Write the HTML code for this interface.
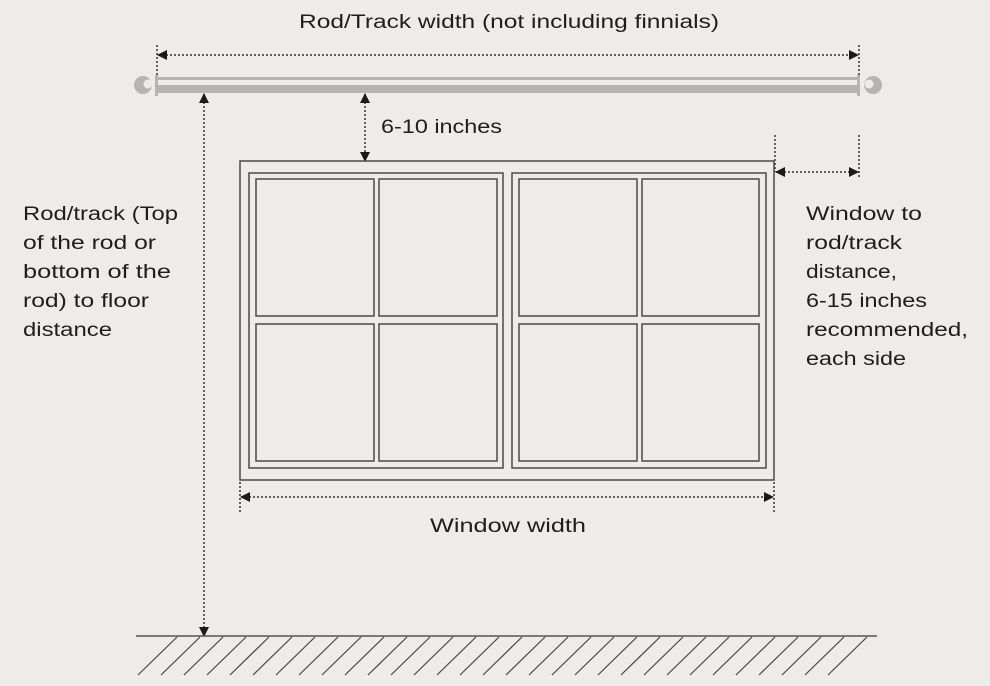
<!DOCTYPE html>
<html><head><meta charset="utf-8"><style>
html,body{margin:0;padding:0;background:#edece8;}
svg{display:block}
text{font-family:"Liberation Sans",sans-serif;font-size:19px;fill:#1e1e1e;}
</style></head><body>
<svg width="990" height="686" viewBox="0 0 990 686" xmlns="http://www.w3.org/2000/svg">
<defs>
<marker id="a" markerWidth="10" markerHeight="10" refX="9" refY="5" orient="auto-start-reverse" markerUnits="userSpaceOnUse">
<path d="M0,0 L10,5 L0,10 z" fill="#1a1a1a"/></marker>
</defs>
<rect width="990" height="686" fill="#edece8"/>
<!-- rod -->
<rect x="157" y="77" width="701" height="3" fill="#b4b4b2"/>
<rect x="157" y="85" width="701" height="8" fill="#b4b4b2"/>
<rect x="155" y="75" width="3" height="21" fill="#b4b4b2"/>
<rect x="857" y="75" width="3" height="21" fill="#b4b4b2"/>
<circle cx="143" cy="85" r="9" fill="#b4b4b2"/><circle cx="148" cy="84" r="4.5" fill="#edece8"/>
<circle cx="873" cy="85" r="9" fill="#b4b4b2"/><circle cx="869" cy="84" r="4.5" fill="#edece8"/>
<g stroke="#333" stroke-width="1.5" stroke-dasharray="2,2" fill="none">
<line x1="157" y1="45" x2="157" y2="76"/><line x1="859" y1="45" x2="859" y2="76"/>
<line x1="158" y1="55" x2="858" y2="55" marker-start="url(#a)" marker-end="url(#a)"/>
<line x1="365" y1="94" x2="365" y2="161" marker-start="url(#a)" marker-end="url(#a)"/>
<line x1="204" y1="94" x2="204" y2="636" marker-start="url(#a)" marker-end="url(#a)"/>
<line x1="775" y1="135" x2="775" y2="172"/><line x1="859" y1="135" x2="859" y2="178"/>
<line x1="776" y1="172" x2="858" y2="172" marker-start="url(#a)" marker-end="url(#a)"/>
<line x1="240" y1="482" x2="240" y2="512"/><line x1="774" y1="482" x2="774" y2="512"/>
<line x1="241" y1="497" x2="773" y2="497" marker-start="url(#a)" marker-end="url(#a)"/>
</g>
<!-- window -->
<g stroke="#4a4a4a" stroke-width="1.5" fill="none">
<rect x="240" y="161" width="534" height="319"/>
<rect x="249" y="173" width="254" height="295"/>
<rect x="512" y="173" width="254" height="295"/>
<rect x="256" y="179" width="118" height="137"/><rect x="379" y="179" width="118" height="137"/>
<rect x="256" y="324" width="118" height="137"/><rect x="379" y="324" width="118" height="137"/>
<rect x="519" y="179" width="118" height="137"/><rect x="642" y="179" width="117" height="137"/>
<rect x="519" y="324" width="118" height="137"/><rect x="642" y="324" width="117" height="137"/>
</g>
<!-- floor -->
<line x1="136" y1="636" x2="877" y2="636" stroke="#555" stroke-width="1.5"/>
<g stroke="#444" stroke-width="1.2">
<line x1="177" y1="637" x2="138" y2="675"/><line x1="200" y1="637" x2="161" y2="675"/><line x1="223" y1="637" x2="184" y2="675"/><line x1="246" y1="637" x2="207" y2="675"/><line x1="269" y1="637" x2="230" y2="675"/><line x1="292" y1="637" x2="253" y2="675"/><line x1="315" y1="637" x2="276" y2="675"/><line x1="338" y1="637" x2="299" y2="675"/><line x1="361" y1="637" x2="322" y2="675"/><line x1="384" y1="637" x2="345" y2="675"/><line x1="407" y1="637" x2="368" y2="675"/><line x1="430" y1="637" x2="391" y2="675"/><line x1="453" y1="637" x2="414" y2="675"/><line x1="476" y1="637" x2="437" y2="675"/><line x1="499" y1="637" x2="460" y2="675"/><line x1="522" y1="637" x2="483" y2="675"/><line x1="545" y1="637" x2="506" y2="675"/><line x1="568" y1="637" x2="529" y2="675"/><line x1="591" y1="637" x2="552" y2="675"/><line x1="614" y1="637" x2="575" y2="675"/><line x1="637" y1="637" x2="598" y2="675"/><line x1="660" y1="637" x2="621" y2="675"/><line x1="683" y1="637" x2="644" y2="675"/><line x1="706" y1="637" x2="667" y2="675"/><line x1="729" y1="637" x2="690" y2="675"/><line x1="752" y1="637" x2="713" y2="675"/><line x1="775" y1="637" x2="736" y2="675"/><line x1="798" y1="637" x2="759" y2="675"/><line x1="821" y1="637" x2="782" y2="675"/><line x1="844" y1="637" x2="805" y2="675"/><line x1="867" y1="637" x2="828" y2="675"/>
</g>
<!-- text -->
<text x="299" y="28" textLength="420" lengthAdjust="spacingAndGlyphs">Rod/Track width (not including finnials)</text>
<text x="381" y="133" textLength="121" lengthAdjust="spacingAndGlyphs">6-10 inches</text>
<text x="430" y="532" textLength="156" lengthAdjust="spacingAndGlyphs">Window width</text>
<text x="23" y="220" textLength="155" lengthAdjust="spacingAndGlyphs">Rod/track (Top</text>
<text x="23" y="249" textLength="133" lengthAdjust="spacingAndGlyphs">of the rod or</text>
<text x="23" y="278" textLength="148" lengthAdjust="spacingAndGlyphs">bottom of the</text>
<text x="23" y="307" textLength="126" lengthAdjust="spacingAndGlyphs">rod) to floor</text>
<text x="23" y="336" textLength="89" lengthAdjust="spacingAndGlyphs">distance</text>
<text x="806" y="220" textLength="116" lengthAdjust="spacingAndGlyphs">Window to</text>
<text x="806" y="249" textLength="96" lengthAdjust="spacingAndGlyphs">rod/track</text>
<text x="806" y="278" textLength="91" lengthAdjust="spacingAndGlyphs">distance,</text>
<text x="806" y="307" textLength="121" lengthAdjust="spacingAndGlyphs">6-15 inches</text>
<text x="806" y="336" textLength="162" lengthAdjust="spacingAndGlyphs">recommended,</text>
<text x="806" y="365" textLength="100" lengthAdjust="spacingAndGlyphs">each side</text>
</svg>
</body></html>
